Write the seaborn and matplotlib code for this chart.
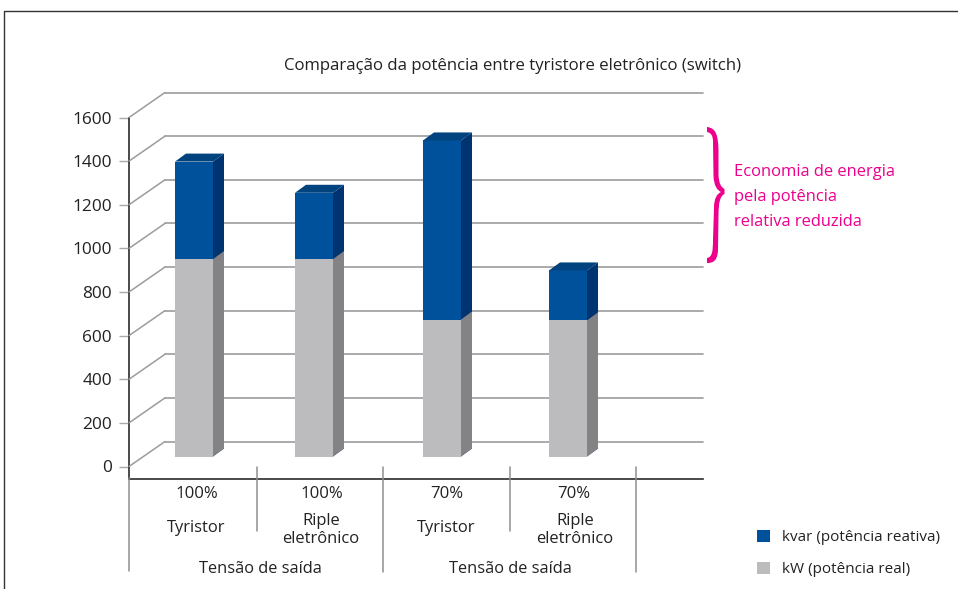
import matplotlib
matplotlib.use("Agg")
import matplotlib.pyplot as plt
import numpy as np
import pandas as pd
import seaborn as sns
from matplotlib.lines import Line2D
from matplotlib.patches import Patch, PathPatch, Polygon
from matplotlib.path import Path
from matplotlib.transforms import ScaledTranslation

# ---- data ----
title = "Comparação da potência entre tyristore eletrônico (switch)"
percent_labels = ["100%", "100%", "70%", "70%"]
type_labels = ["Tyristor", "Riple\neletrônico", "Tyristor", "Riple\neletrônico"]
group_label = "Tensão de saída"
kw_values = [905, 905, 628, 624]
kvar_values = [447, 304, 821, 229]
y_ticks = [0, 200, 400, 600, 800, 1000, 1200, 1400, 1600]
series_labels = ["kvar (potência reativa)", "kW (potência real)"]
note_lines = ["Economia de energia", "pela potência", "relativa reduzida"]

# ---- layout / style ----
W, H = 958, 589
BLUE, BLUE_SIDE, BLUE_TOP = "#00519b", "#003470", "#00437f"
GREY, GREY_SIDE = "#bcbcbe", "#838385"
PINK = "#ec008c"
GRID = "#9c9c9c"
DARK = "#2b2b2b"
TXT = "#222222"
FS = 11.9
slot_px = 127
ax_left, ax_right, ax_top, ax_bottom = 129, 703, 117.5, 478.5
y_scale = 349 / 1600
bar_centres_px = [194, 314, 442, 568]
pct_px = [197, 322, 447, 574]
type_px = [196, 321, 446, 575]
depth = (11, 8)
back = (36, 25)
bar_lift = 10
bar_w_px = 38

sns.set_style("ticks")
plt.rcParams["font.family"] = ["Open Sans", "DejaVu Sans"]

fig = plt.figure(figsize=(W / 100, H / 100), dpi=100)
fig.patch.set_facecolor("white")


def fx(x):
    return x / W


def fy(y):
    return 1 - y / H


ax = fig.add_axes([fx(ax_left), fy(ax_bottom), (ax_right - ax_left) / W, (ax_bottom - ax_top) / H])
ax.patch.set_alpha(0)

slots = [(c - ax_left) / slot_px for c in bar_centres_px]
df = pd.DataFrame({"slot": slots, "kw": kw_values, "kvar": kvar_values})
df["total"] = df["kw"] + df["kvar"]
rel_width = (bar_w_px / slot_px) / np.min(np.diff(slots))

sns.barplot(data=df, x="slot", y="total", color=BLUE, saturation=1, native_scale=True,
            orient="x", width=rel_width, errorbar=None, ax=ax, zorder=3, linewidth=0)
n_blue = len(ax.patches)
sns.barplot(data=df, x="slot", y="kw", color=GREY, saturation=1, native_scale=True,
            orient="x", width=rel_width, errorbar=None, ax=ax, zorder=3.2, linewidth=0)

ax.set_xlim(0, (ax_right - ax_left) / slot_px)
ax.set_ylim(-(ax_bottom - 466.5) / y_scale, 1600)
ax.set_xlabel("")
ax.set_ylabel("")

# y axis and x tick labels
ax.set_yticks(y_ticks)
ax.set_yticklabels([str(v) for v in y_ticks], fontsize=FS + 0.5, color=TXT)
ax.tick_params(axis="y", length=7.2, width=1.0, color="#aaaaaa", pad=5)
ax.set_xticks([(p - ax_left) / slot_px for p in pct_px])
ax.set_xticklabels(percent_labels, fontsize=FS + 0.2, color=TXT)
ax.tick_params(axis="x", length=0, pad=5.5)
sns.despine(ax=ax, top=True, right=True)
for s in ("left", "bottom"):
    ax.spines[s].set_color(DARK)
    ax.spines[s].set_linewidth(1.2)

# back wall grid + side-wall diagonals, shifted from the front plane
back_tf = ax.transData + ScaledTranslation(back[0] / 100, back[1] / 100, fig.dpi_scale_trans)
xmax = (ax_right - ax_left - back[0]) / slot_px
for v in y_ticks:
    ax.plot([0, xmax], [v, v], transform=back_tf, color=GRID, lw=1.2, zorder=1, clip_on=False)
    p0 = ax.transData.transform((0, v))
    fig.add_artist(Line2D([p0[0] / W, (p0[0] + back[0]) / W], [p0[1] / H, (p0[1] + back[1]) / H],
                          color=GRID, lw=1.1, zorder=0.5))

# lift bars and extrude them
lift_tf = ax.transData + ScaledTranslation(0, bar_lift / 100, fig.dpi_scale_trans)
fig.canvas.draw()
dx, dy = depth
for i, p in enumerate(list(ax.patches)):
    is_blue = i < n_blue
    p.set_transform(lift_tf)
    p.set_clip_on(False)
    x0, y0 = lift_tf.transform((p.get_x(), p.get_y()))
    x1, y1 = lift_tf.transform((p.get_x() + p.get_width(), p.get_y() + p.get_height()))
    side = [(x1, y0), (x1 + dx, y0 + dy), (x1 + dx, y1 + dy), (x1, y1)]
    ax.add_patch(Polygon(side, closed=True, transform=None, facecolor=BLUE_SIDE if is_blue else GREY_SIDE,
                         edgecolor="none", zorder=3.1 if is_blue else 3.3, clip_on=False))
    if is_blue:
        top = [(x0, y1), (x1, y1), (x1 + dx, y1 + dy), (x0 + dx, y1 + dy)]
        ax.add_patch(Polygon(top, closed=True, transform=None, facecolor=BLUE_TOP,
                             edgecolor="none", zorder=3.1, clip_on=False))

# category separators
seps = [(129, 478, 571), (257, 467, 531), (383, 467, 572), (510, 467, 531), (636, 467, 572)]
for x, a, b in seps:
    fig.add_artist(Line2D([fx(x), fx(x)], [fy(a), fy(b)], color="#8f8f8f", lw=1.1))

# category texts
for x, lab in zip(type_px, type_labels):
    fig.text(fx(x), fy(528 if "\n" not in lab else 530), lab, ha="center", va="center",
             fontsize=FS, color=TXT, linespacing=1.12)
for x in (260, 510):
    fig.text(fx(x), fy(569), group_label, ha="center", va="center", fontsize=FS - 0.1, color=TXT)

fig.suptitle(title, x=fx(513), y=fy(66.5), ha="center", va="center", fontsize=FS + 0.2, color=TXT)

# note
for y, line in zip((172.5, 197, 221.5), note_lines):
    fig.text(fx(734), fy(y), line, ha="left", va="center", fontsize=FS, color=PINK)

# brace
M, C, L = Path.MOVETO, Path.CURVE4, Path.LINETO
brace = [
    (M, (707, 127)), (C, (716, 128)), (C, (718, 135)), (C, (718.5, 150)),
    (L, (718.5, 175)), (C, (719, 184)), (C, (721, 187)), (C, (724.5, 189)),
    (L, (724.5, 194)), (C, (720, 196)), (C, (718.5, 203)), (C, (718.5, 215)),
    (L, (718, 250)), (C, (717.5, 262)), (C, (712, 263)), (C, (707, 263)),
    (L, (707, 258)), (C, (712, 257)), (C, (713, 252)), (C, (713, 240)),
    (L, (714, 208)), (C, (714, 198)), (C, (717, 194)), (C, (721, 192)),
    (C, (717, 190)), (C, (714, 186)), (C, (713.5, 176)),
    (L, (713, 142)), (C, (713, 135)), (C, (711, 133)), (C, (707, 132)),
    (Path.CLOSEPOLY, (707, 127)),
]
verts = [(fx(v[0]), fy(v[1])) for _, v in brace]
fig.add_artist(PathPatch(Path(verts, [c for c, _ in brace]), transform=fig.transFigure,
                         facecolor=PINK, edgecolor="none"))

# legend
handles = [Patch(facecolor=BLUE, edgecolor="none"), Patch(facecolor=GREY, edgecolor="none")]
fig.legend(handles, series_labels, loc="center left",
           bbox_to_anchor=(fx(757), fy(553.5)), bbox_transform=fig.transFigure, frameon=False,
           fontsize=10.95, handlelength=0.86, handleheight=0.86, handletextpad=0.8,
           labelspacing=1.08, borderpad=0, borderaxespad=0, labelcolor=TXT)

# outer frame
fig.add_artist(Line2D([fx(4), fx(4), 1], [0, fy(11), fy(11)], color="#333333", lw=1.0))

fig.savefig("out.png", dpi=100)
